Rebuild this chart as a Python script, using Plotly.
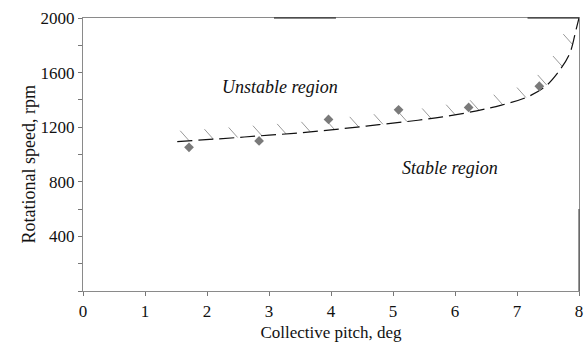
import numpy as np
import plotly.graph_objects as go

# Measured stability points
pitch_pts = [1.71, 2.84, 3.96, 5.09, 6.22, 7.36]
speed_pts = [1053, 1099, 1257, 1327, 1345, 1500]

# Stability boundary (dashed curve)
bound_pitch = [1.52, 2.2, 2.8, 3.4, 4.0, 4.6, 5.2, 5.8, 6.35, 6.75, 7.15, 7.45, 7.65, 7.85, 7.95, 8.0]
bound_speed = [1095, 1115, 1135, 1155, 1180, 1210, 1240, 1275, 1320, 1362, 1418, 1496, 1594, 1740, 1910, 2000]

x_ticks = [0, 1, 2, 3, 4, 5, 6, 7, 8]
y_ticks = list(range(0, 2001, 200))
y_labels = [str(v) if (v % 400 == 0 and v > 0) else "" for v in y_ticks]

W, H = 587, 343
ML, MR, MT, MB = 83, 4, 18, 52
pw, ph = W - ML - MR, H - MT - MB
sx = pw / 8.0
sy = ph / 2000.0

# Hatching along the boundary (evenly spaced by arc length in screen space)
bx = np.array(bound_pitch) * sx
by = np.array(bound_speed) * sy
seg = np.hypot(np.diff(bx), np.diff(by))
cum = np.concatenate([[0], np.cumsum(seg)])
hx, hy = [], []
for s in np.arange(12, cum[-1] - 4, 24.5):
    i = min(np.searchsorted(cum, s) - 1, len(seg) - 1)
    t = (s - cum[i]) / seg[i]
    px = bound_pitch[i] + t * (bound_pitch[i + 1] - bound_pitch[i])
    py = bound_speed[i] + t * (bound_speed[i + 1] - bound_speed[i])
    hx += [px - 9 / sx, px, None]
    hy += [py + 10 / sy, py, None]

fig = go.Figure()
fig.add_trace(go.Scatter(x=hx, y=hy, mode="lines", line=dict(color="#9a9a9a", width=1),
                         hoverinfo="skip", showlegend=False, cliponaxis=False))
fig.add_trace(go.Scatter(x=bound_pitch, y=bound_speed, mode="lines",
                         line=dict(color="#111111", width=1.2, dash="15px,6px"),
                         line_shape="spline", showlegend=False, cliponaxis=False))
fig.add_trace(go.Scatter(x=pitch_pts, y=speed_pts, mode="markers",
                         marker=dict(symbol="diamond", size=7.5, color="#7a7a7a"),
                         showlegend=False))

# Frame artifacts (top/right)
for x0, x1 in [(3.08, 4.08), (7.17, 8.0)]:
    fig.add_shape(type="line", xref="x", yref="paper", x0=x0, x1=x1, y0=1, y1=1,
                  line=dict(color="#111111", width=1.2))
fig.add_shape(type="line", xref="paper", yref="y", x0=1, x1=1, y0=0, y1=600,
              line=dict(color="#555555", width=1.2))

fig.add_annotation(x=3.18, y=1493, text="<i>Unstable region</i>", showarrow=False,
                   font=dict(family="Liberation Serif", size=18, color="#111111"))
fig.add_annotation(x=5.92, y=901, text="<i>Stable region</i>", showarrow=False,
                   font=dict(family="Liberation Serif", size=18, color="#111111"))
fig.add_annotation(xref="paper", yref="y", x=(16 - ML) / pw, y=923, textangle=-90,
                   text="Rotational speed, rpm", showarrow=False,
                   font=dict(family="Liberation Serif", size=18, color="#111111"))

fig.update_layout(
    width=W, height=H,
    margin=dict(l=ML, r=MR, t=MT, b=MB),
    paper_bgcolor="white", plot_bgcolor="white",
    font=dict(family="Liberation Serif", size=17, color="#111111"),
    xaxis=dict(range=[0, 8], tickvals=x_ticks, ticks="outside", ticklen=4, tickcolor="#777777",
               ticklabeloverflow="allow",
               showline=True, linecolor="#8a8a8a", linewidth=1.3, mirror=True, showgrid=False,
               zeroline=False, title=dict(text="Collective pitch, deg", standoff=6,
                                          font=dict(size=17))),
    yaxis=dict(range=[0, 2000], tickvals=y_ticks, ticktext=y_labels, ticks="outside", ticklen=4,
               tickcolor="#777777", showline=True, linecolor="#8a8a8a", linewidth=1.3, mirror=True,
               showgrid=False, zeroline=False),
)

fig.write_html("out.html")
